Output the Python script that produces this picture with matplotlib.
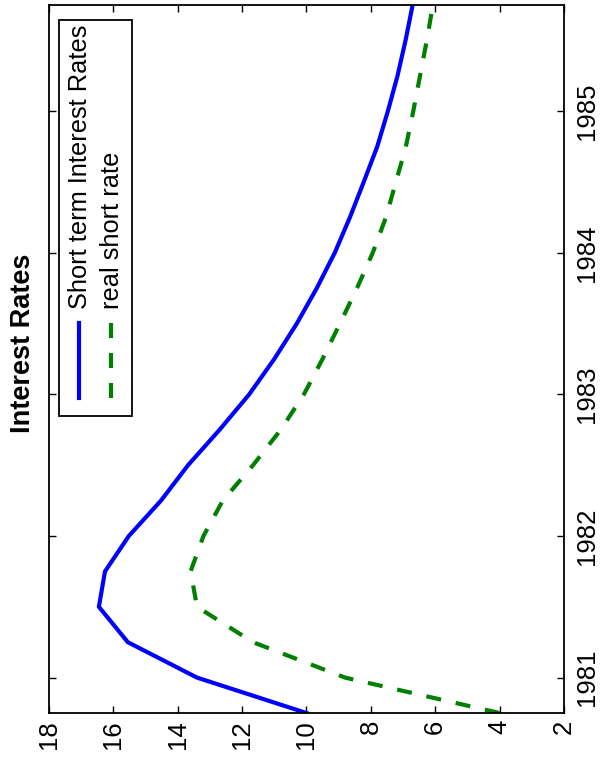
import numpy as np
import matplotlib
matplotlib.use("Agg")
import matplotlib.pyplot as plt
from matplotlib.lines import Line2D
from matplotlib.patches import Rectangle

plt.rcParams['font.family'] = ['Liberation Sans', 'DejaVu Sans']

# quarterly dates
years = [1980.75, 1981.0, 1981.25, 1981.5, 1981.75, 1982.0, 1982.25, 1982.5,
         1982.75, 1983.0, 1983.25, 1983.5, 1983.75, 1984.0, 1984.25, 1984.5,
         1984.75, 1985.0, 1985.25, 1985.5, 1985.75]
short_rate = [10.0, 13.4, 15.55, 16.45, 16.26, 15.52, 14.52, 13.68, 12.7, 11.78,
              11.0, 10.3, 9.68, 9.12, 8.65, 8.22, 7.8, 7.47, 7.17, 6.92, 6.70]
real_rate = [4.0, 8.8, 11.66, 13.4, 13.6, 13.2, 12.6, 11.66, 10.8, 10.08,
             9.5, 8.96, 8.43, 7.94, 7.53, 7.22, 6.91, 6.68, 6.47, 6.26, 6.07]
labels = ["Short term Interest Rates", "real short rate"]
value_ticks = [2, 4, 6, 8, 10, 12, 14, 16, 18]
year_ticks = [1981, 1982, 1983, 1984, 1985]

fig = plt.figure(figsize=(6.05, 7.75), dpi=100)
ax = fig.add_axes([0.081, 0.080, 0.851, 0.9135])

# the chart is drawn turned on its side: values run along x, time along y
ax.plot(short_rate, years, color='#0000ff', lw=3)
ax.plot(real_rate, years, color='#008000', lw=3, linestyle=(0, (3.6, 3.6)))

ax.set_xlim(18, 2)
ax.set_ylim(1980.75, 1985.75)
ax.set_xticks(value_ticks)
ax.set_xticklabels([str(v) for v in value_ticks], rotation=90, va='top', ha='center')
ax.set_yticks(year_ticks)
ax.set_yticklabels([str(y) for y in year_ticks], rotation=90, va='center', ha='left')

ax.tick_params(direction='in', length=5, width=1, top=True, right=True,
               left=True, bottom=True, labelleft=False, labelright=True,
               labelsize=18.5)
ax.tick_params(axis='x', pad=5)
ax.tick_params(axis='y', pad=8)
for s in ax.spines.values():
    s.set_linewidth(1.3)

# legend, rotated like the rest of the chart
ax.add_patch(Rectangle((0.019, 0.419), 0.142, 0.560, transform=ax.transAxes,
                       fill=True, facecolor='white', edgecolor='black', lw=1.3, zorder=5))
ax.add_line(Line2D([0.058, 0.058], [0.445, 0.551], transform=ax.transAxes,
                   color='#0000ff', lw=3, zorder=6))
ax.add_line(Line2D([0.120, 0.120], [0.445, 0.551], transform=ax.transAxes,
                   color='#008000', lw=3, linestyle=(0, (3.6, 3.6)), zorder=6))
ax.text(0.060, 0.570, labels[0], transform=ax.transAxes, rotation=90,
        ha='center', va='bottom', fontsize=18.3, zorder=7)
ax.text(0.122, 0.570, labels[1], transform=ax.transAxes, rotation=90,
        ha='center', va='bottom', fontsize=18.3, zorder=7)

fig.text(0.038, 0.557, "Interest Rates", rotation=90, ha='center', va='center',
         fontsize=19.5, fontweight='bold')

fig.savefig("out.png", dpi=100)
